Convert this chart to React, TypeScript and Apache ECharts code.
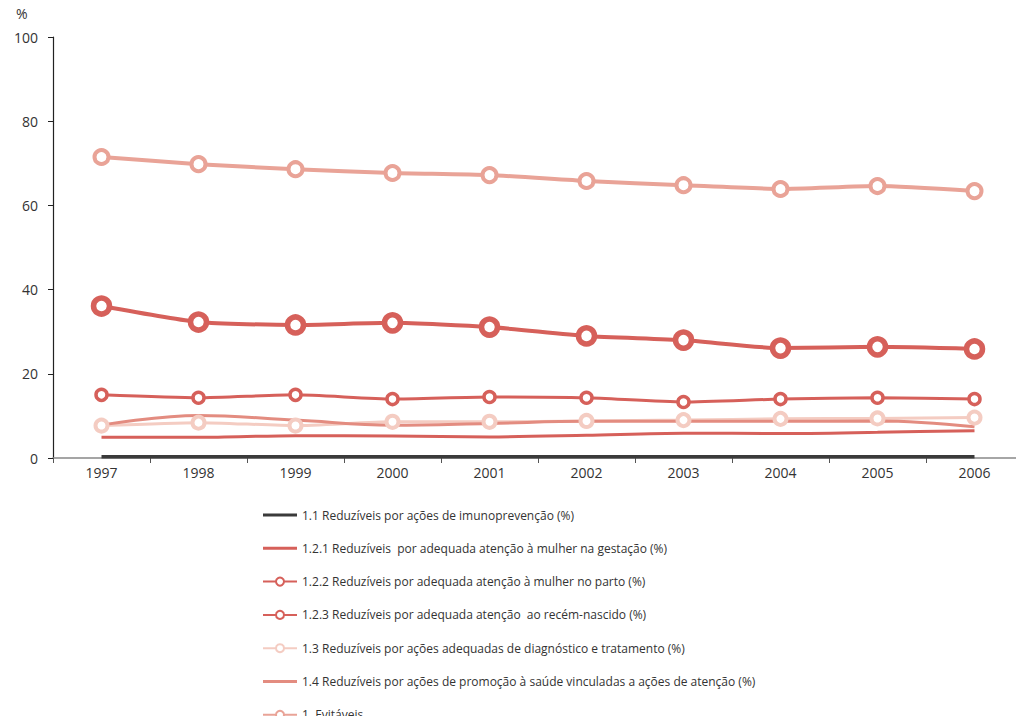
import React, { useEffect, useRef } from "react";
import * as echarts from "echarts";

const years = ["1997", "1998", "1999", "2000", "2001", "2002", "2003", "2004", "2005", "2006"];
const yTicks = [0, 20, 40, 60, 80, 100];

const s11 = [0.3, 0.3, 0.3, 0.3, 0.3, 0.3, 0.3, 0.3, 0.3, 0.3];
const s121 = [4.9, 4.9, 5.3, 5.2, 5.0, 5.4, 5.9, 5.8, 6.1, 6.5];
const s122 = [15.0, 14.3, 15.0, 14.0, 14.5, 14.3, 13.3, 14.0, 14.3, 14.0];
const s123 = [36.1, 32.3, 31.6, 32.1, 31.1, 29.0, 28.0, 26.1, 26.4, 25.9];
const s13 = [7.7, 8.4, 7.7, 8.6, 8.6, 8.8, 9.0, 9.3, 9.4, 9.6];
const s14 = [7.8, 10.1, 9.0, 7.8, 8.2, 8.7, 8.7, 8.7, 8.8, 7.4];
const s1 = [71.5, 69.8, 68.6, 67.7, 67.2, 65.8, 64.8, 63.9, 64.6, 63.4];

const names = [
  "1.1 Reduzíveis por ações de imunoprevenção (%)",
  "1.2.1 Reduzíveis  por adequada atenção à mulher na gestação (%)",
  "1.2.2 Reduzíveis por adequada atenção à mulher no parto (%)",
  "1.2.3 Reduzíveis por adequada atenção  ao recém-nascido (%)",
  "1.3 Reduzíveis por ações adequadas de diagnóstico e tratamento (%)",
  "1.4 Reduzíveis por ações de promoção à saúde vinculadas a ações de atenção (%)",
  "1. Evitáveis",
];

const FONT = "'Open Sans', sans-serif";
const LINE_ICON = "path://M0 0h34v3H0z";

export default function App() {
  const ref = useRef<HTMLDivElement>(null);
  useEffect(() => {
    if (!ref.current) return;
    const chart = echarts.init(ref.current, undefined, { renderer: "svg" });
    const plain = (name: string, data: number[], color: string, width: number, smooth: number | boolean) => ({
      name,
      type: "line",
      data,
      smooth,
      showSymbol: false,
      symbol: "none",
      lineStyle: { color, width },
      itemStyle: { color },
    });
    const marked = (name: string, data: number[], color: string, width: number, size: number, bw: number, smooth: number | boolean) => ({
      name,
      type: "line",
      data,
      smooth,
      symbol: "circle",
      symbolSize: size,
      lineStyle: { color, width },
      itemStyle: { color: "#ffffff", borderColor: color, borderWidth: bw },
    });
    chart.setOption({
      animation: false,
      textStyle: { fontFamily: FONT },
      grid: { left: 53, right: 1, top: 37, bottom: 266, containLabel: false },
      legend: {
        orient: "vertical",
        left: 262,
        top: 509,
        height: 214,
        padding: 0,
        itemWidth: 34,
        itemHeight: 10,
        itemGap: 21.3,
        textStyle: { fontFamily: FONT, fontSize: 12, color: "#333333" },
        data: [
          { name: names[0], icon: LINE_ICON },
          { name: names[1], icon: LINE_ICON },
          names[2],
          names[3],
          names[4],
          { name: names[5], icon: LINE_ICON },
          names[6],
        ],
      },
      xAxis: {
        type: "category",
        data: years,
        boundaryGap: true,
        axisLine: { lineStyle: { color: "#888888", width: 1.5 } },
        axisTick: { show: true, length: 5, lineStyle: { color: "#555555" } },
        axisLabel: { fontFamily: FONT, fontSize: 14, color: "#333333", margin: 7 },
      },
      yAxis: {
        type: "value",
        min: 0,
        max: 100,
        interval: 20,
        axisLine: { show: true, lineStyle: { color: "#222222", width: 1.2 } },
        axisTick: { show: true, length: 5, lineStyle: { color: "#222222" } },
        splitLine: { show: false },
        axisLabel: {
          fontFamily: FONT,
          fontSize: 14,
          color: "#333333",
          margin: 15,
          formatter: (v: number) => (yTicks.includes(v) ? String(v) : ""),
        },
      },
      graphic: [
        {
          type: "text",
          left: 16,
          top: 6,
          style: { text: "%", fontFamily: FONT, fontSize: 14, fill: "#333333" },
        },
      ],
      series: [
        plain(names[0], s11, "#3a3a3a", 3.5, false),
        plain(names[1], s121, "#D6605A", 3, 0.3),
        marked(names[2], s122, "#D6605A", 3, 11, 3.5, 0.2),
        marked(names[3], s123, "#D6605A", 4, 16, 5.5, 0.2),
        marked(names[4], s13, "#F4CCC2", 3, 12, 4, 0.2),
        plain(names[5], s14, "#E38C80", 3, 0.4),
        marked(names[6], s1, "#E9A397", 4, 14, 4, 0.2),
      ],
    });
    return () => chart.dispose();
  }, []);
  return <div ref={ref} style={{ width: 1024, height: 724, margin: -8 }} />;
}
